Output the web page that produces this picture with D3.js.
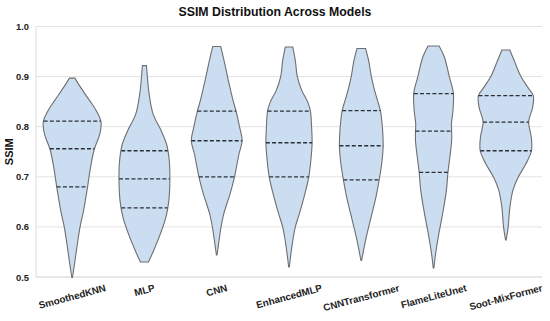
<!DOCTYPE html>
<html>
<head>
<meta charset="utf-8">
<script src="https://cdn.jsdelivr.net/npm/d3@7"></script>
<style>
  html, body { margin: 0; padding: 0; background: #fff; }
  svg { display: block; font-family: "Liberation Sans", Arial, sans-serif; }
</style>
</head>
<body>
<svg id="chart" width="550" height="321"></svg>
<script>
// ---- Data ----
const models = ["SmoothedKNN", "MLP", "CNN", "EnhancedMLP", "CNNTransformer", "FlameLiteUnet", "Soot-MixFormer"];
const yTicks = [0.5, 0.6, 0.7, 0.8, 0.9, 1.0];

// quartiles (Q1, median, Q3)
const q1     = [0.680, 0.638, 0.700, 0.700, 0.694, 0.709, 0.752];
const median = [0.756, 0.696, 0.772, 0.768, 0.762, 0.791, 0.809];
const q3     = [0.811, 0.752, 0.831, 0.831, 0.832, 0.866, 0.862];

// kernel density profiles: [ssim, density]
const profileSmoothedKNN = [[0.897,0.42],[0.879,1.29],[0.852,2.72],[0.832,3.74],[0.809,4.48],[0.785,4.28],[0.755,3.43],[0.719,2.85],[0.679,2.38],[0.632,1.76],[0.599,1.21],[0.559,0.73],[0.525,0.36],[0.499,0.05]];
const profileMLP = [[0.922,0.31],[0.905,0.42],[0.865,0.73],[0.825,1.35],[0.792,2.60],[0.765,3.43],[0.732,3.85],[0.695,3.94],[0.652,3.78],[0.619,3.32],[0.585,2.44],[0.552,1.40],[0.530,0.62]];
const profileCNN = [[0.960,0.62],[0.932,1.14],[0.900,1.67],[0.852,2.54],[0.831,3.00],[0.800,3.53],[0.772,3.94],[0.746,3.46],[0.700,2.76],[0.666,2.07],[0.626,1.09],[0.600,0.67],[0.573,0.36],[0.544,0.05]];
const profileEnhancedMLP = [[0.959,0.58],[0.932,0.98],[0.900,1.29],[0.872,1.99],[0.849,2.91],[0.831,3.32],[0.799,3.50],[0.768,3.58],[0.732,3.38],[0.700,3.07],[0.666,2.46],[0.626,1.60],[0.600,0.98],[0.566,0.51],[0.520,0.05]];
const profileCNNTransformer = [[0.956,0.67],[0.932,1.14],[0.900,1.56],[0.872,2.07],[0.852,2.52],[0.832,2.96],[0.799,3.27],[0.762,3.39],[0.726,3.16],[0.694,2.77],[0.659,2.26],[0.619,1.51],[0.580,0.78],[0.533,0.05]];
const profileFlameLiteUnet = [[0.961,0.86],[0.939,1.67],[0.900,2.44],[0.867,3.07],[0.832,3.00],[0.806,2.77],[0.791,2.80],[0.772,2.80],[0.739,2.52],[0.709,2.23],[0.673,1.99],[0.626,1.40],[0.580,0.73],[0.546,0.31],[0.518,0.05]];
const profileSootMixFormer = [[0.953,0.62],[0.932,1.29],[0.900,2.34],[0.879,3.38],[0.862,4.25],[0.839,4.16],[0.810,3.53],[0.779,3.94],[0.752,3.97],[0.726,3.11],[0.699,1.90],[0.673,1.09],[0.639,0.62],[0.600,0.36],[0.574,0.05]];

const profiles = [profileSmoothedKNN, profileMLP, profileCNN, profileEnhancedMLP, profileCNNTransformer, profileFlameLiteUnet, profileSootMixFormer];

// ---- Layout ----
const svg = d3.select("#chart");
const plotLeft = 36, plotRight = 542, plotTop = 26.5, plotBottom = 277;

const x = d3.scaleBand().domain(models).range([plotLeft, plotRight]).padding(0);
const y = d3.scaleLinear().domain([0.5, 1.0]).range([plotBottom, plotTop]);
const maxDensity = d3.max(profiles, p => d3.max(p, d => d[1]));
const w = d3.scaleLinear().domain([0, maxDensity]).range([0, x.bandwidth() * 0.4]);

// grid lines
svg.append("g").selectAll("line").data(yTicks).join("line")
  .attr("x1", plotLeft).attr("x2", plotRight)
  .attr("y1", d => y(d)).attr("y2", d => y(d))
  .attr("stroke", "#e3e3e3").attr("stroke-width", 1);

// spines
svg.append("line")
  .attr("x1", plotLeft).attr("x2", plotLeft).attr("y1", plotTop).attr("y2", plotBottom)
  .attr("stroke", "#dcdcdc").attr("stroke-width", 1);
svg.append("line")
  .attr("x1", plotLeft).attr("x2", plotRight).attr("y1", plotBottom).attr("y2", plotBottom)
  .attr("stroke", "#dcdcdc").attr("stroke-width", 1);

// y axis via d3.axisLeft
const yAxis = svg.append("g").attr("transform", `translate(${plotLeft},0)`)
  .call(d3.axisLeft(y).tickValues(yTicks).tickFormat(d3.format(".1f")).tickSize(0).tickPadding(7));
yAxis.select(".domain").remove();
yAxis.selectAll("text")
  .attr("font-family", "'Liberation Sans', Arial, sans-serif")
  .attr("font-size", "9.4px").attr("font-weight", "bold").attr("fill", "#222");

// violins
const interp = (prof, v) => {
  for (let i = 0; i < prof.length - 1; i++) {
    const a = prof[i], b = prof[i + 1];
    if (v <= a[0] && v >= b[0]) {
      const t = (a[0] - v) / (a[0] - b[0]);
      return a[1] + t * (b[1] - a[1]);
    }
  }
  return 0;
};

const area = d3.area()
  .curve(d3.curveCatmullRom.alpha(0.5))
  .y(d => y(d[0]));

models.forEach((m, i) => {
  const cx = x(m) + x.bandwidth() / 2;
  const prof = profiles[i];
  svg.append("path")
    .datum(prof)
    .attr("d", area.x0(d => cx - w(d[1])).x1(d => cx + w(d[1])))
    .attr("fill", "#cbddf1")
    .attr("stroke", "#6f6f6f")
    .attr("stroke-width", 1.1);
  [q1[i], median[i], q3[i]].forEach(q => {
    const hw = w(interp(prof, q));
    svg.append("line")
      .attr("x1", cx - hw).attr("x2", cx + hw)
      .attr("y1", y(q)).attr("y2", y(q))
      .attr("stroke", "#2b3038")
      .attr("stroke-width", 1.3)
      .attr("stroke-dasharray", "4,2.2");
  });
});

// x tick labels (rotated 15°, centred on tick)
const xLab = svg.append("g");
models.forEach(m => {
  const cx = x(m) + x.bandwidth() / 2;
  const t = xLab.append("text")
    .text(m)
    .attr("font-size", "9.8px").attr("font-weight", "bold").attr("fill", "#222")
    .attr("text-anchor", "middle").attr("dominant-baseline", "central");
  const W = t.node().getComputedTextLength();
  const h = 9.8 * 0.75;
  const a = 15 * Math.PI / 180;
  const bh = W * Math.sin(a) + h * Math.cos(a);
  t.attr("transform", `translate(${cx},${284 + bh / 2}) rotate(-15)`);
});

// y axis title
svg.append("text")
  .attr("transform", `translate(13,${(plotTop + plotBottom) / 2}) rotate(-90)`)
  .attr("text-anchor", "middle")
  .attr("font-size", "11px").attr("font-weight", "bold").attr("fill", "#111")
  .text("SSIM");

// title
svg.append("text")
  .attr("x", 275).attr("y", 15.7)
  .attr("text-anchor", "middle")
  .attr("font-size", "12.3px").attr("font-weight", "bold").attr("fill", "#111")
  .text("SSIM Distribution Across Models");
</script>
</body>
</html>
